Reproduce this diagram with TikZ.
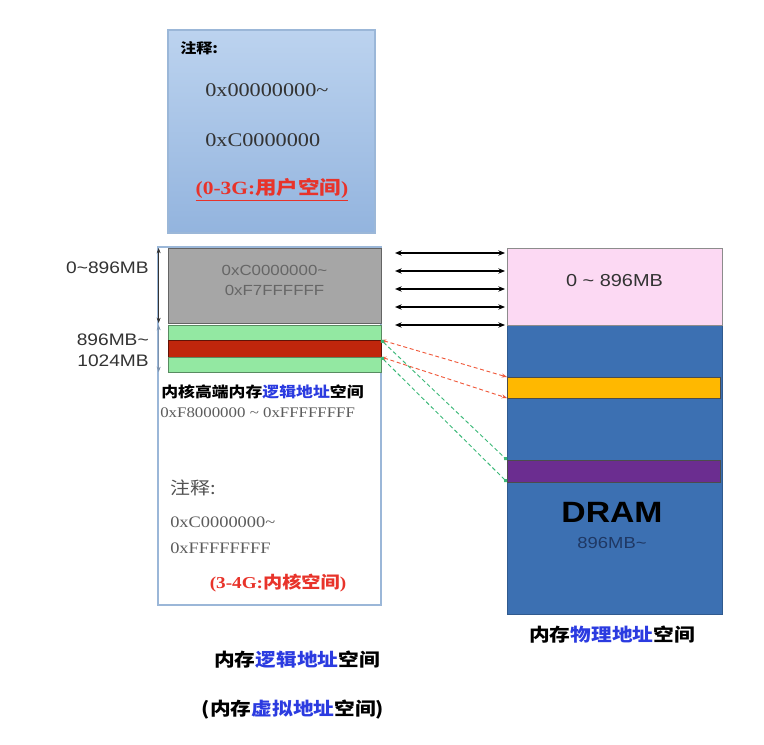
\documentclass[tikz,border=0pt]{standalone}
\usepackage{fontspec}
\setmainfont{Liberation Serif}[FakeStretch=1.15]
\setsansfont{Liberation Sans}[FakeStretch=1.15]
\newfontfamily\cjk{Noto Sans CJK SC}[FakeStretch=1.15]
\usetikzlibrary{arrows.meta, positioning, fit, calc}
\definecolor{memtoplight}{HTML}{BCD3EF}
\definecolor{memtopdark}{HTML}{93B4DE}
\definecolor{memframe}{HTML}{9BB7D8}
\definecolor{memgrey}{HTML}{A6A6A6}
\definecolor{memgreen}{HTML}{93E8A2}
\definecolor{memred}{HTML}{C0260C}
\definecolor{mempink}{HTML}{FCD9F3}
\definecolor{memdram}{HTML}{3C70B2}
\definecolor{memorange}{HTML}{FFB800}
\definecolor{mempurple}{HTML}{6B2D90}
\definecolor{memtext}{HTML}{333333}
\definecolor{memhl}{HTML}{2B3BE0}
\definecolor{memalert}{HTML}{E8332A}
\definecolor{memnavy}{HTML}{1F3864}
\definecolor{memdashred}{HTML}{F05A3C}
\definecolor{memdashgreen}{HTML}{3CB878}

\begin{document}
\begin{tikzpicture}[x=0.75pt, y=-0.75pt,
    band/.style={inner sep=0pt, outer sep=0pt, line width=0.6pt},
    hexnum/.style={font=\fontsize{14.5}{16}\selectfont, text=memtext, anchor=west, inner sep=0pt},
    cjklabel/.style={font=\cjk\bfseries\fontsize{13.5}{16}\selectfont, inner sep=0pt},
    maparrow/.style={{Stealth[length=5pt,width=4pt]}-{Stealth[length=5pt,width=4pt]}, line width=0.9pt},
    highmap/.style={densely dashed, line width=0.7pt}]
  \useasboundingbox (0,0) rectangle (764,745);

  % user space (0-3G)
  \node[band, fit={(168,30) (375,233)}, top color=memtoplight, bottom color=memtopdark,
        draw=memframe, line width=1pt] (userbox) {};
  \node[font=\cjk\bfseries\fontsize{10.5}{12}\selectfont, anchor=west, inner sep=0pt] (usernote) at (180,48) {注释:};
  \node[hexnum] (userlo) at (205,90) {0x00000000\textasciitilde};
  \node[hexnum] (userhi) at (205,140) {0xC0000000};
  \node[text=memalert, inner sep=0pt] (userlabel) at (272,190)
       {\underline{\fontsize{14}{16}\selectfont\bfseries (0-3G:{\cjk 用户空间})}};

  % kernel space (3-4G)
  \node[band, fit={(158,247) (381,605)}, fill=white, draw=memframe, line width=1.2pt] (kernelbox) {};
  \node[band, fit={(168,248) (381,323)}, fill=memgrey, draw=memgrey!60!black, align=center,
        font=\sffamily\fontsize{11}{15}\selectfont, text=memtext!75]
       (greybox) {0xC0000000\textasciitilde\\0xF7FFFFFF};
  \node[band, fit={(168,325) (381,340)}, fill=memgreen, draw=memgreen!60!black] (greenA) {};
  \node[band, fit={(168,340) (381,357)}, fill=memred, draw=memred!50!black] (redband) {};
  \node[band, fit={(168,357) (381,372)}, fill=memgreen, draw=memgreen!60!black] (greenB) {};

  \node[cjklabel, font=\cjk\bfseries\fontsize{11}{14}\selectfont, anchor=west] (highlabel) at (161,392)
       {内核高端内存{\color{memhl}逻辑地址}空间};
  \node[hexnum, font=\fontsize{11}{13}\selectfont, text=memtext!80] (highrange) at (160,413)
       {0xF8000000 \textasciitilde\ 0xFFFFFFFF};
  \node[font=\cjk\fontsize{13}{15}\selectfont, text=memtext!85, anchor=west, inner sep=0pt] (kernelnote) at (170,488) {注释:};
  \node[hexnum, font=\fontsize{12}{14}\selectfont, text=memtext!80] (kernello) at (170,522) {0xC0000000\textasciitilde};
  \node[hexnum, font=\fontsize{12}{14}\selectfont, text=memtext!80] (kernelhi) at (170,548) {0xFFFFFFFF};
  \node[text=memalert, inner sep=0pt, font=\bfseries\fontsize{12.5}{15}\selectfont] (kernellabel) at (278,583)
       {(3-4G:{\cjk 内核空间})};

  % ranges on the left
  \node[font=\sffamily\fontsize{12.5}{14}\selectfont, text=memtext, anchor=east, inner sep=0pt] (lowsize) at (149,268) {0\textasciitilde 896MB};
  \node[font=\sffamily\fontsize{12.5}{15.5}\selectfont, text=memtext, anchor=east, align=right, inner sep=0pt] (highsize) at (149,350) {896MB\textasciitilde\\1024MB};
  \draw[{Stealth[length=4pt,width=3pt]}-{Stealth[length=4pt,width=3pt]}, memtext, line width=0.6pt]
       ([xshift=-7]greybox.north west) -- ([xshift=-7]greybox.south west);
  \draw[{Stealth[length=4pt,width=3pt]}-{Stealth[length=4pt,width=3pt]}, memframe!80!black, line width=0.6pt]
       ([xshift=-7]greenA.north west) -- ([xshift=-7]greenB.south west);

  % physical memory
  \node[band, fit={(507,325) (722,614)}, fill=memdram, draw=memdram!80!black] (drambox) {};
  \node[band, fit={(507,248) (722,325)}, fill=mempink, draw=black!45,
        font=\sffamily\fontsize{13}{15}\selectfont, text=memtext] (pinkbox) {0 \textasciitilde\ 896MB};
  \node[band, fit={(507,377) (720,398)}, fill=memorange, draw=black!70] (orangeband) {};
  \node[band, fit={(507,460) (720,482)}, fill=mempurple, draw=black!70] (purpleband) {};
  \node[font=\sffamily\bfseries\fontsize{22}{24}\selectfont, inner sep=0pt] (dramlabel) at (612,512) {DRAM};
  \node[font=\sffamily\fontsize{12}{14}\selectfont, text=memnavy, inner sep=0pt] (dramsize) at (612,543) {896MB\textasciitilde};

  % direct mapping
  \foreach \dy in {5,23,41,59,77}
    \draw[maparrow] ([shift={(14,\dy)}]greybox.north east) -- ([shift={(-2,\dy)}]pinkbox.north west);

  % high memory mapping
  \draw[highmap, memdashred, {Stealth[length=4pt,width=3pt]}-{Stealth[length=4pt,width=3pt]}]
       (redband.north east) -- (orangeband.north west);
  \draw[highmap, memdashred, {Stealth[length=4pt,width=3pt]}-{Stealth[length=4pt,width=3pt]}]
       (redband.south east) -- (orangeband.south west);
  \draw[highmap, memdashgreen, {Circle[length=3pt]}-{Circle[length=3pt]}]
       (redband.north east) -- (purpleband.north west);
  \draw[highmap, memdashgreen, {Circle[length=3pt]}-{Circle[length=3pt]}]
       (redband.south east) -- (purpleband.south west);

  % captions
  \node[cjklabel] (physcap) at (612,635) {内存{\color{memhl}物理地址}空间};
  \node[cjklabel] (logiccap) at (297,660) {内存{\color{memhl}逻辑地址}空间};
  \node[cjklabel] (virtcap) at (293,710) {(内存{\color{memhl}虚拟地址}空间)};
\end{tikzpicture}
\end{document}
